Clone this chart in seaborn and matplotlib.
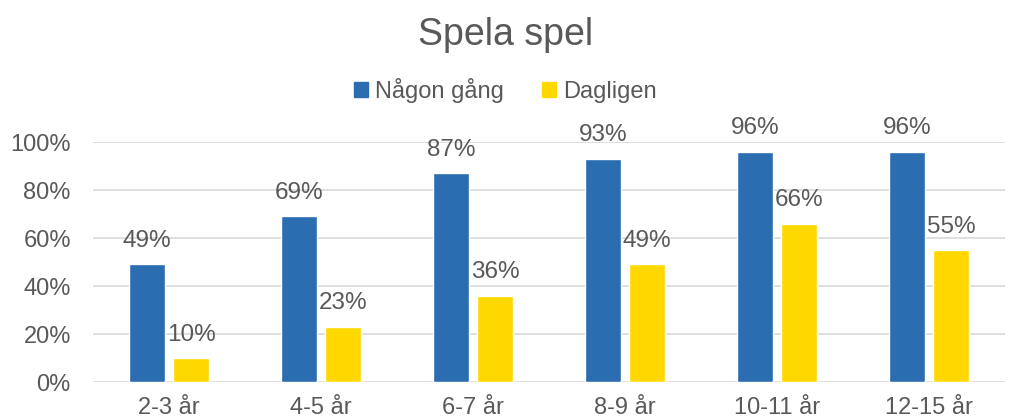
import matplotlib
matplotlib.use("Agg")
import matplotlib.pyplot as plt
import pandas as pd
import seaborn as sns
from matplotlib.ticker import PercentFormatter

categories = ["2-3 år", "4-5 år", "6-7 år", "8-9 år", "10-11 år", "12-15 år"]
series_names = ["Någon gång", "Dagligen"]
nagon_gang = [0.49, 0.69, 0.87, 0.93, 0.96, 0.96]
dagligen = [0.10, 0.23, 0.36, 0.49, 0.66, 0.55]
colors = ["#2A6DB0", "#FFD800"]

df = pd.DataFrame({
    "age": categories * 2,
    "series": [series_names[0]] * len(categories) + [series_names[1]] * len(categories),
    "value": nagon_gang + dagligen,
})

sns.set_theme(style="white")
plt.rcParams["font.family"] = ["Liberation Sans", "DejaVu Sans"]
text_color = "#595959"

fig = plt.figure(figsize=(10.11, 4.19), dpi=100)
ax = fig.add_axes([0.092, 0.0883, 0.902, 0.5727])

sns.barplot(data=df, x="age", y="value", hue="series", palette=colors,
            width=0.58, gap=0.2, ax=ax, legend=False, saturation=1)

for container in ax.containers:
    ax.bar_label(container, labels=[f"{v * 100:.0f}%" for v in container.datavalues],
                 padding=9, fontsize=17.5, color=text_color)

ax.set_ylim(0, 1)
ax.set_yticks([0, 0.2, 0.4, 0.6, 0.8, 1.0])
ax.yaxis.set_major_formatter(PercentFormatter(1.0, decimals=0))
ax.grid(axis="y", color="#d9d9d9", linewidth=1.2)
ax.set_axisbelow(True)
for s in ax.spines.values():
    s.set_visible(False)
ax.tick_params(axis="both", length=0, labelsize=17, labelcolor=text_color)
ax.tick_params(axis="x", pad=11)
ax.tick_params(axis="y", pad=16)
ax.set_xlabel("")
ax.set_ylabel("")

fig.text(0.5, 0.916, "Spela spel", ha="center", va="center", fontsize=27, color=text_color)

handles = [plt.Rectangle((0, 0), 1, 1, color=c) for c in colors]
fig.legend(handles, series_names, loc="center", bbox_to_anchor=(0.5, 0.785), ncol=2,
           frameon=False, fontsize=17, handlelength=0.6, handleheight=0.6,
           handletextpad=0.3, columnspacing=1.6, labelcolor=text_color)

fig.savefig("out.png", dpi=100)
